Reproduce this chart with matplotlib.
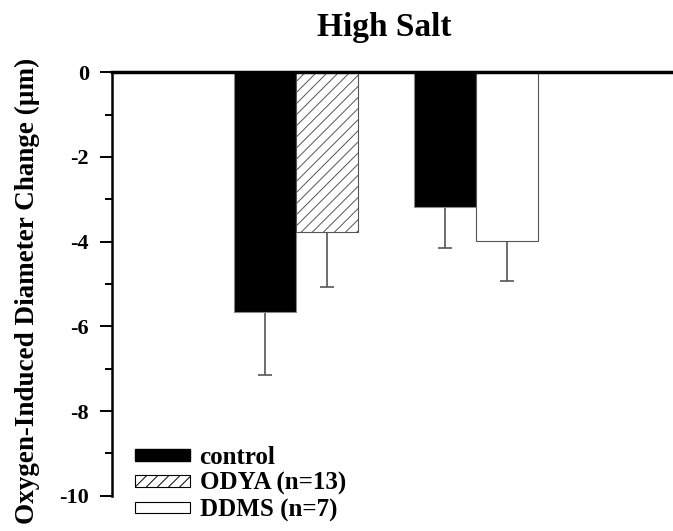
import matplotlib.pyplot as plt
from matplotlib.patches import Patch

plt.rcParams['font.family'] = ['Liberation Serif', 'DejaVu Serif']
plt.rcParams['font.weight'] = 'bold'
plt.rcParams['hatch.linewidth'] = 0.7
plt.rcParams['axes.unicode_minus'] = False

groups = [1, 2]
control = [-5.66, -3.19]
control_err = [1.48, 0.97]
treated = [-3.77, -3.99]
treated_err = [1.30, 0.95]
treated_hatch = ['///', '']
labels = ['control', 'ODYA (n=13)', 'DDMS (n=7)']

fig = plt.figure(figsize=(6.73, 5.31), dpi=100)
ax = fig.add_axes([112 / 673, 1 - 495.7 / 531, 1 - 112 / 673, (495.7 - 72.3) / 531])

w = 0.344
for i, g in enumerate(groups):
    ax.bar(g - w / 2, control[i], w, color='black', edgecolor='#888888', lw=0.8, zorder=2)
    ax.bar(g + w / 2, treated[i], w, color='white', edgecolor='#555555', lw=0.8,
           hatch=treated_hatch[i], zorder=2)
    ax.errorbar(g - w / 2, control[i], yerr=[[control_err[i]], [0]], fmt='none',
                ecolor='#555555', elinewidth=1.2, capsize=4.7, capthick=1.2, zorder=1)
    ax.errorbar(g + w / 2, treated[i], yerr=[[treated_err[i]], [0]], fmt='none',
                ecolor='#555555', elinewidth=1.2, capsize=4.7, capthick=1.2, zorder=1)

ax.set_xlim(-0.022, 3.094)
ax.set_ylim(-10, 0)
ax.set_yticks([0, -2, -4, -6, -8, -10])
ax.set_yticks([-1, -3, -5, -7, -9], minor=True)
ax.tick_params(axis='y', which='major', length=8.5, width=1.4, labelsize=16, pad=8)
ax.tick_params(axis='y', which='minor', length=5, width=1.4)
ax.set_xticks([])
for lab in ax.get_yticklabels():
    lab.set_fontweight('bold')

ax.spines['right'].set_visible(False)
ax.spines['bottom'].set_visible(False)
ax.spines['left'].set_linewidth(1.8)
ax.spines['top'].set_linewidth(2.5)
ax.spines['top'].set_zorder(3)

ax.set_ylabel('Oxygen-Induced Diameter Change (\u00b5m)', fontsize=19.5, fontweight='bold')
ax.yaxis.set_label_coords(-0.128, 0.483)
ax.set_title('High Salt', fontsize=24, fontweight='bold', pad=26, x=0.485)

handles = [Patch(facecolor='black', edgecolor='black'),
           Patch(facecolor='white', edgecolor='black', hatch='///', lw=0.8),
           Patch(facecolor='white', edgecolor='black', lw=0.8)]
leg = ax.legend(handles, labels, loc='lower left', bbox_to_anchor=(0.0, -0.115),
                frameon=False, prop={'family': 'Liberation Serif', 'weight': 'bold', 'size': 18},
                handlelength=2.2, handleheight=0.35, handletextpad=0.4, labelspacing=0.12)

fig.savefig('out.png', dpi=100)
